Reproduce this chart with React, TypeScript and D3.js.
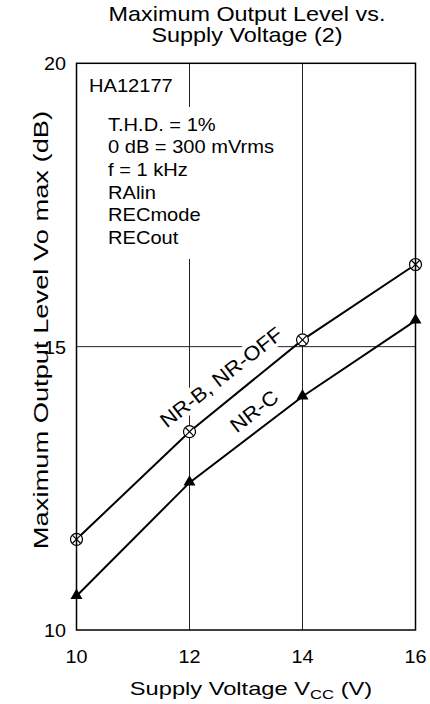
import React from "react";
import * as d3 from "d3";

const voltages = [10, 12, 14, 16];
const nrbOff = [11.6, 13.5, 15.12, 16.45];
const nrC = [10.6, 12.6, 14.12, 15.46];
const xTicks = [10, 12, 14, 16];
const yTicks = [10, 15, 20];
const xGrid = [12, 14];
const yGrid = [15];
const notes = ["T.H.D. = 1%", "0 dB = 300 mVrms", "f = 1 kHz", "RAlin", "RECmode", "RECout"];

const W = 430;
const H = 704;
const FONT = "Liberation Sans, Arial, Helvetica, sans-serif";

export default function App() {
  const x = d3.scaleLinear().domain([10, 16]).range([76.5, 415.5]);
  const y = d3.scaleLinear().domain([10, 20]).range([630, 63.3]);
  const line = d3
    .line<number>()
    .x((_, i) => x(voltages[i]))
    .y((d) => y(d));

  const tri = d3.symbol().type(d3.symbolTriangle).size(62)();

  const labelAngle = -38;
  return (
    <svg
      width={W}
      height={H}
      style={{ position: "absolute", left: 0, top: 0, background: "#fff" }}
      fontFamily={FONT}
    >
      <rect x={0} y={0} width={W} height={H} fill="#fff" />
      {/* title */}
      <g transform={`translate(247,21) scale(1.17,1)`}>
        <text x={0} y={0} fontSize={20} textAnchor="middle">
          Maximum Output Level vs.
        </text>
      </g>
      <g transform={`translate(247,41.5) scale(1.17,1)`}>
        <text x={0} y={0} fontSize={20} textAnchor="middle">
          Supply Voltage (2)
        </text>
      </g>

      {/* grid */}
      {xGrid.map((v) => (
        <line key={"gx" + v} x1={x(v)} x2={x(v)} y1={y(20)} y2={y(10)} stroke="#222" strokeWidth={1} />
      ))}
      {yGrid.map((v) => (
        <line key={"gy" + v} x1={x(10)} x2={x(16)} y1={y(v)} y2={y(v)} stroke="#222" strokeWidth={1} />
      ))}

      {/* annotation mask and text */}
      <rect x={104} y={107} width={150} height={152} fill="#fff" />
      <g transform="translate(89,92) scale(1.08,1)">
        <text fontSize={18.6}>HA12177</text>
      </g>
      {notes.map((n, i) => (
        <g key={n} transform={`translate(108,${130.8 + i * 22.6}) scale(1.08,1)`}>
          <text fontSize={18.6}>{n}</text>
        </g>
      ))}

      {/* curve label masks */}
      <g transform={`translate(221,377) rotate(${labelAngle})`}>
        <rect x={-77} y={-11} width={154} height={22} fill="#fff" />
      </g>

      {/* curves */}
      <path d={line(nrbOff) || ""} fill="none" stroke="#000" strokeWidth={2} />
      <path d={line(nrC) || ""} fill="none" stroke="#000" strokeWidth={2} />

      {nrbOff.map((v, i) => (
        <g key={"c" + i} transform={`translate(${x(voltages[i])},${y(v)})`}>
          <circle r={6} fill="#fff" stroke="#000" strokeWidth={1.2} />
          <line x1={-4.2} y1={-4.2} x2={4.2} y2={4.2} stroke="#000" strokeWidth={1.2} />
          <line x1={-4.2} y1={4.2} x2={4.2} y2={-4.2} stroke="#000" strokeWidth={1.2} />
        </g>
      ))}
      {nrC.map((v, i) => (
        <path key={"t" + i} d={tri || ""} transform={`translate(${x(voltages[i])},${y(v) - 0.5})`} fill="#000" />
      ))}

      {/* curve labels */}
      <g transform={`translate(221,377) rotate(${labelAngle}) scale(1.1,1)`}>
        <text fontSize={20} textAnchor="middle" dominantBaseline="central">
          NR-B, NR-OFF
        </text>
      </g>
      <g transform={`translate(254,411) rotate(${labelAngle}) scale(1.1,1)`}>
        <text fontSize={20} textAnchor="middle" dominantBaseline="central">
          NR-C
        </text>
      </g>

      {/* frame */}
      <rect x={x(10)} y={y(20)} width={x(16) - x(10)} height={y(10) - y(20)} fill="none" stroke="#000" strokeWidth={1.5} />

      {/* y ticks */}
      {yTicks.map((v) => (
        <g key={"yt" + v} transform={`translate(66,${y(v) + 7}) scale(1.1,1)`}>
          <text fontSize={18} textAnchor="end">
            {v}
          </text>
        </g>
      ))}
      {/* x ticks */}
      {xTicks.map((v) => (
        <g key={"xt" + v} transform={`translate(${x(v)},663) scale(1.1,1)`}>
          <text fontSize={18} textAnchor="middle">
            {v}
          </text>
        </g>
      ))}

      {/* axis titles */}
      <g transform="translate(48,330) rotate(-90) scale(1.3,1)">
        <text fontSize={21} textAnchor="middle">
          Maximum Output Level Vo max (dB)
        </text>
      </g>
      <g transform="translate(251,695) scale(1.28,1)">
        <text fontSize={18.5} textAnchor="middle">
          Supply Voltage V
          <tspan fontSize={13} dy={4}>
            CC
          </tspan>
          <tspan dy={-4}> (V)</tspan>
        </text>
      </g>
    </svg>
  );
}
